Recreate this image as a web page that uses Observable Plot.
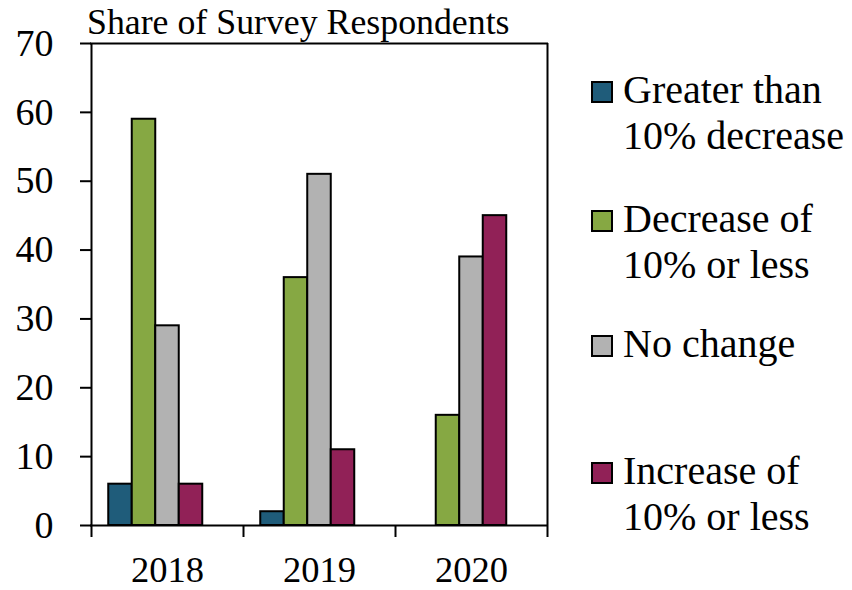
<!DOCTYPE html>
<html>
<head>
<meta charset="utf-8">
<script src="https://cdn.jsdelivr.net/npm/d3@7"></script>
<script src="https://cdn.jsdelivr.net/npm/@observablehq/plot@0.6"></script>
<style>
  html, body { margin: 0; padding: 0; background: #fff; }
  #wrap { position: relative; width: 852px; height: 590px; font-family: 'Liberation Serif', serif; color: #000; }
  #wrap svg { position: absolute; left: 0; top: 0; }
  #wrap svg text { font-family: 'Liberation Serif', serif; }
  .title { position: absolute; left: 87px; top: 5px; font-family: 'Liberation Serif', serif; font-size: 35.8px; line-height: 35px; white-space: nowrap; }
  .entry { position: absolute; left: 623px; font-family: 'Liberation Serif', serif; font-size: 40px; line-height: 46px; white-space: pre-line; }
  .swatch { position: absolute; left: 591px; width: 18px; height: 18px; border: 2px solid #000; }
</style>
</head>
<body>
<div id="wrap"></div>
<script>
// ---- data ----
const years = ["2018", "2019", "2020"];
const seriesNames = [
  "Greater than\n10% decrease",
  "Decrease of\n10% or less",
  "No change",
  "Increase of\n10% or less"
];
const greaterThan10Decrease = [6, 2, 0];
const decrease10OrLess = [59, 36, 16];
const noChange = [29, 51, 39];
const increase10OrLess = [6, 11, 45];
const seriesColors = ["#1f5c7a", "#86a843", "#b2b2b2", "#912157"];
const yTicks = [0, 10, 20, 30, 40, 50, 60, 70];
const titleText = "Share of Survey Respondents";

// ---- layout ----
const FONT = "'Liberation Serif', serif";
const W = 852, H = 590;
const mL = 91, mR = 305, mT = 43, mB = 65;
const bw = (W - mL - mR) / years.length;       // category band width
const slots = 5;                               // 4 series + 1 empty legend slot
const outer = 0.734;
const slot = bw / (slots + 2 * outer);
const off = outer * slot;

const seriesValues = [greaterThan10Decrease, decrease10OrLess, noChange, increase10OrLess];
const tables = seriesValues.map((vals, si) =>
  years.map((y, yi) => ({year: y, value: vals[yi], series: seriesNames[si]}))
);

const barMarks = tables.map((t, i) =>
  Plot.barY(t, {
    x: "year", y: "value",
    fill: seriesColors[i], stroke: "#000", strokeWidth: 2,
    insetLeft: off + i * slot,
    insetRight: bw - off - (i + 1) * slot
  })
);

const chart = Plot.plot({
  width: W, height: H,
  marginLeft: mL, marginRight: mR, marginTop: mT, marginBottom: mB,
  style: {fontFamily: FONT, fontSize: "38px", background: "transparent", color: "#000", overflow: "visible"},
  x: {type: "band", domain: years, padding: 0, axis: null},
  y: {domain: [0, 70], axis: null},
  marks: [
    ...barMarks,
    Plot.ruleY([0, 70], {stroke: "#000", strokeWidth: 2, strokeLinecap: "square"}),
    Plot.ruleX([years[0]], {x: d => d, dx: -bw / 2, y1: 70, y2: 0, insetBottom: -12, stroke: "#000", strokeWidth: 2}),
    Plot.ruleX([years[years.length - 1]], {x: d => d, dx: bw / 2, y1: 70, y2: 0, insetBottom: -12, stroke: "#000", strokeWidth: 2}),
    Plot.ruleX(years.slice(1), {x: d => d, dx: -bw / 2, y1: 0, y2: 0, insetBottom: -12, stroke: "#000", strokeWidth: 2}),
    Plot.axisY({ticks: yTicks, tickSize: 11, tickPadding: 27, fontSize: 38, fontFamily: FONT, label: null, strokeWidth: 2, stroke: "#000", fill: "#000", tickFormat: d => String(d)}),
    Plot.axisX({tickSize: 0, tickPadding: 31, fontSize: 36.5, fontFamily: FONT, label: null, fill: "#000"})
  ]
});

const wrap = document.getElementById("wrap");
wrap.appendChild(chart);

const t = document.createElement("div");
t.className = "title";
t.textContent = titleText;
wrap.appendChild(t);

// legend: baselines of first lines
const legendBaselines = [103, 232, 357, 484];
seriesNames.forEach((name, i) => {
  const b = legendBaselines[i];
  const sw = document.createElement("div");
  sw.className = "swatch";
  sw.style.top = (b - 22) + "px";
  sw.style.background = seriesColors[i];
  wrap.appendChild(sw);
  const e = document.createElement("div");
  e.className = "entry";
  e.style.top = (b - 36.5) + "px";
  e.textContent = name;
  wrap.appendChild(e);
});
</script>
</body>
</html>
